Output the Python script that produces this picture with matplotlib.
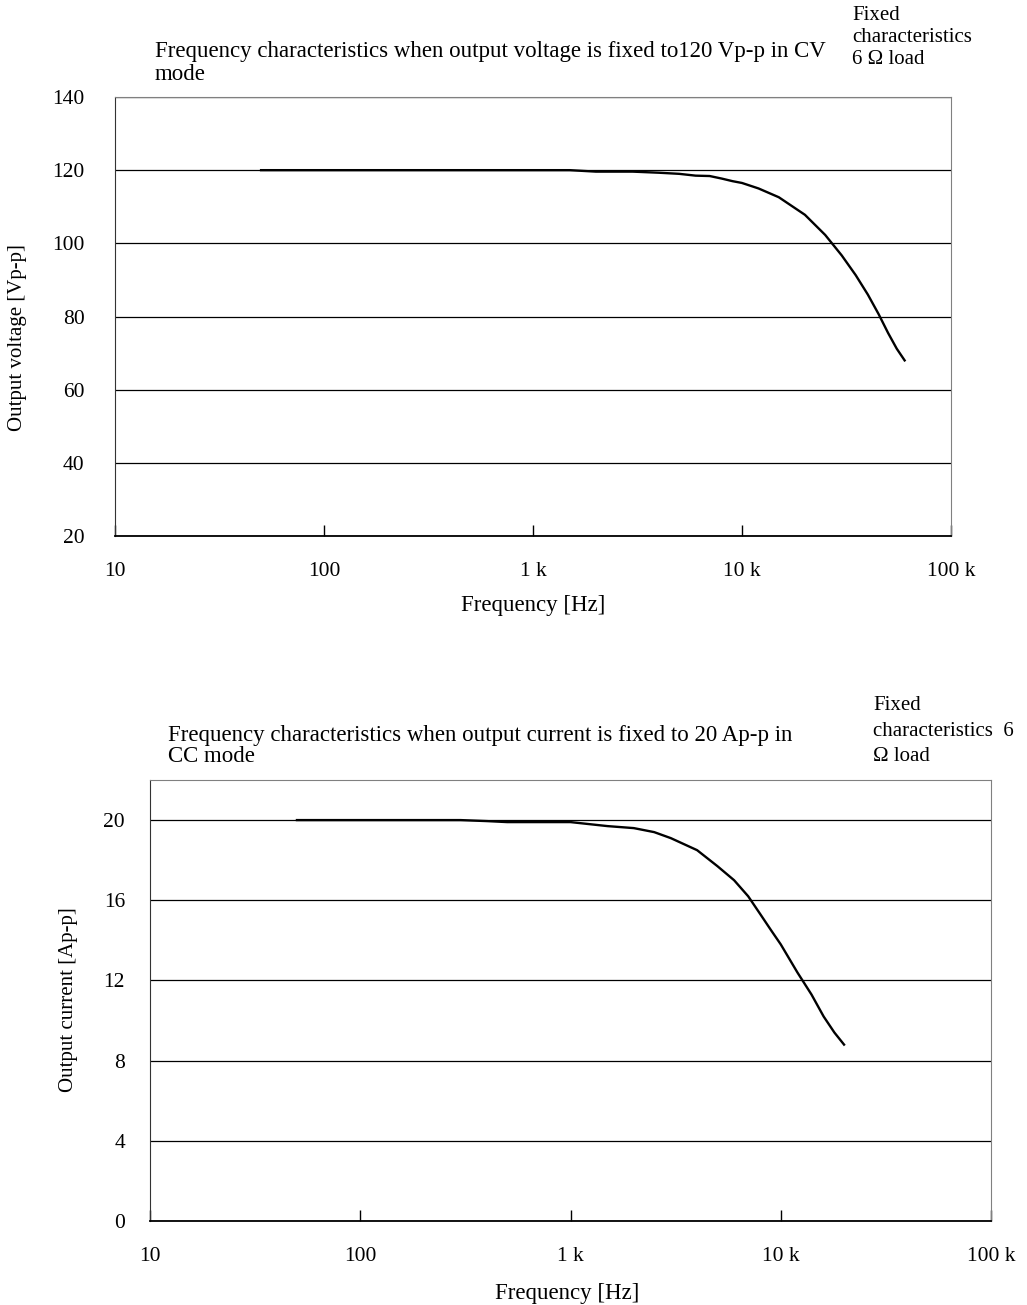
import matplotlib
matplotlib.use("Agg")
import matplotlib.pyplot as plt

# data
freq_cv = [50, 100, 200, 500, 1000, 1500, 2000, 3000, 4000, 5000, 6000, 7000, 8000, 9000,
           10000, 12000, 15000, 20000, 25000, 30000, 35000, 40000, 45000, 50000, 55000, 60000]
volt_cv = [120, 120, 120, 120, 120, 120, 119.6, 119.6, 119.3, 119.0, 118.5, 118.4, 117.7, 117.0,
           116.5, 115.0, 112.6, 107.8, 102.3, 96.7, 91.3, 86.0, 80.7, 75.5, 71.2, 68.0]

freq_cc = [50, 100, 200, 300, 400, 500, 700, 1000, 1500, 2000, 2500, 3000, 4000, 5000, 6000,
           7000, 8000, 9000, 10000, 12000, 14000, 16000, 18000, 20000]
curr_cc = [20, 20, 20, 20, 19.95, 19.9, 19.9, 19.9, 19.7, 19.6, 19.4, 19.1, 18.5, 17.7, 17.0,
           16.2, 15.3, 14.5, 13.8, 12.4, 11.3, 10.2, 9.4, 8.8]

xticks = [10, 100, 1000, 10000, 100000]
xlabels = ['10', '100', '1 k', '10 k', '100 k']

plt.rcParams['font.family'] = ['Liberation Serif', 'DejaVu Serif']
plt.rcParams['font.size'] = 15.5

W, H = 1027, 1305
fig = plt.figure(figsize=(W / 100, H / 100), dpi=100)


def px_axes(l, t, r, b):
    return fig.add_axes([l / W, 1 - b / H, (r - l) / W, (b - t) / H])


def px_text(x, y, s, **kw):
    fig.text(x / W, 1 - y / H, s, va='center', **kw)


def style(ax, ylim, yticks, ypad):
    ax.set_xscale('log')
    ax.set_xlim(10, 100000)
    ax.set_ylim(*ylim)
    ax.set_yticks(yticks)
    ax.set_xticks(xticks)
    ax.set_xticklabels(xlabels)
    ax.minorticks_off()
    ax.tick_params(axis='x', direction='in', length=8, width=1, pad=19)
    ax.tick_params(axis='y', length=0, pad=ypad)
    ax.grid(axis='y', color='black', lw=0.9)
    for s in ['top', 'right']:
        ax.spines[s].set_color('#808080')
    ax.spines['left'].set_color('#333333')
    ax.spines['bottom'].set_color('black')
    ax.spines['bottom'].set_linewidth(1.3)


# top chart: CV mode
ax1 = px_axes(115, 97, 951, 536)
ax1.plot(freq_cv, volt_cv, color='black', lw=1.7)
style(ax1, (20, 140), range(20, 141, 20), 22)
px_text(533, 605, 'Frequency [Hz]', ha='center', fontsize=16.5)
px_text(18, 338, 'Output voltage [Vp-p]', ha='center', rotation=90, fontsize=15)
px_text(155, 52, 'Frequency characteristics when output voltage is fixed to120 Vp-p in CV', fontsize=16.5)
px_text(155, 75, 'mode', fontsize=16.5)
px_text(852, 15, 'Fixed', fontsize=15)
px_text(852, 38, 'characteristics', fontsize=15)
px_text(852, 60, '6 Ω load', fontsize=15)

# bottom chart: CC mode
ax2 = px_axes(150, 780, 991, 1221)
ax2.plot(freq_cc, curr_cc, color='black', lw=1.7)
style(ax2, (0, 22), range(0, 21, 4), 18)
px_text(567, 1293, 'Frequency [Hz]', ha='center', fontsize=16.5)
px_text(68, 1000, 'Output current [Ap-p]', ha='center', rotation=90, fontsize=15)
px_text(168, 735, 'Frequency characteristics when output current is fixed to 20 Ap-p in', fontsize=16.5)
px_text(168, 757, 'CC mode', fontsize=16.5)
px_text(873, 706, 'Fixed', fontsize=15)
px_text(873, 731, 'characteristics  6', fontsize=15)
px_text(873, 756, 'Ω load', fontsize=15)

fig.savefig('out.png', dpi=100)
